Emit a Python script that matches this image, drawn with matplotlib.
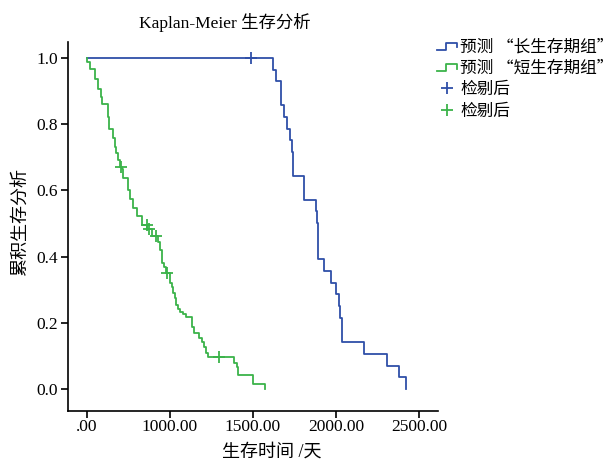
import matplotlib
matplotlib.use('Agg')
import matplotlib.pyplot as plt
from matplotlib.lines import Line2D
from matplotlib.legend_handler import HandlerBase

plt.rcParams['font.family'] = ['Liberation Serif', 'Noto Sans CJK SC']

# long survival group (blue)
long_t = [0, 1122, 1137, 1167, 1170, 1185, 1205, 1221, 1235, 1241, 1243, 1305, 1309,
          1380, 1387, 1389, 1390, 1393, 1430, 1470, 1500, 1518, 1526, 1534, 1536,
          1669, 1807, 1880, 1922]
long_s = [1.0, 0.964, 0.929, 0.893, 0.857, 0.821, 0.786, 0.750, 0.714, 0.679, 0.643,
          0.607, 0.571, 0.536, 0.500, 0.464, 0.429, 0.393, 0.357, 0.321, 0.286, 0.250,
          0.214, 0.179, 0.143, 0.107, 0.071, 0.036, 0.0]
long_cens_t = [990]
long_cens_s = [1.0]

# short survival group (green)
short_t = [0, 2, 18, 48, 68, 83, 90, 127, 134, 158, 167, 175, 189, 199, 211, 219, 249,
           259, 279, 303, 330, 364, 390, 430, 440, 450, 464, 476, 500, 512, 520, 528,
           536, 550, 560, 576, 596, 631, 645, 677, 691, 705, 717, 731, 886, 902, 911,
           1002, 1072]
short_s = [1.0, 0.986, 0.966, 0.936, 0.906, 0.881, 0.861, 0.821, 0.786, 0.756, 0.731,
           0.711, 0.691, 0.671, 0.663, 0.636, 0.600, 0.572, 0.545, 0.522, 0.495, 0.483,
           0.462, 0.444, 0.419, 0.379, 0.369, 0.349, 0.319, 0.309, 0.289, 0.274, 0.253,
           0.243, 0.233, 0.228, 0.218, 0.188, 0.170, 0.153, 0.143, 0.128, 0.108, 0.097,
           0.078, 0.067, 0.042, 0.015, 0.0]
short_cens_t = [207, 360, 373, 416, 484, 797]
short_cens_s = [0.671, 0.495, 0.483, 0.462, 0.349, 0.097]

xticks = [0, 500, 1000, 1500, 2000]
xtick_labels = ['.00', '1000.00', '1500.00', '2000.00', '2500.00']
yticks = [0.0, 0.2, 0.4, 0.6, 0.8, 1.0]
legend_labels = ['预测 “长生存期组”', '预测 “短生存期组”', '检剔后', '检剔后']

blue = '#2f4fa8'
green = '#3bb34a'


class StepHandler(HandlerBase):
    def create_artists(self, legend, orig_handle, xd, yd, w, h, fontsize, trans):
        xs = [-xd, -xd + w * 0.45, -xd + w * 0.45, -xd + w, -xd + w]
        ys = [-yd + h * 0.2, -yd + h * 0.2, -yd + h * 0.75, -yd + h * 0.75, -yd + h * 0.4]
        ln = Line2D(xs, ys, color=orig_handle.get_color(), lw=1.3, transform=trans)
        return [ln]


fig = plt.figure(figsize=(6.15, 4.63), dpi=100)
ax = fig.add_axes([0.1106, 0.1123, 0.6016, 0.797])

l1, = ax.step(long_t, long_s, where='post', color=blue, lw=1.3)
l2, = ax.step(short_t, short_s, where='post', color=green, lw=1.3)
c1, = ax.plot(long_cens_t, long_cens_s, '+', color=blue, ms=8, mew=1.3, ls='none')
c2, = ax.plot(short_cens_t, short_cens_s, '+', color=green, ms=8, mew=1.3, ls='none')

ax.set_xlim(-114, 2114)
ax.set_ylim(-0.066, 1.047)
ax.set_xticks(xticks)
ax.set_xticklabels(xtick_labels)
ax.set_yticks(yticks)
ax.set_yticklabels(['%.1f' % v for v in yticks])
ax.tick_params(labelsize=12.5, length=5, width=1.2, direction='out')
ax.tick_params(axis='y', pad=2)
ax.tick_params(axis='x', pad=1)
for s in ['top', 'right']:
    ax.spines[s].set_visible(False)
for s in ['left', 'bottom']:
    ax.spines[s].set_linewidth(1.2)

fig.text(225 / 615, 1 - 22 / 463, 'Kaplan-Meier 生存分析', ha='center', va='center', fontsize=12.5)
fig.text(272 / 615, 1 - 452 / 463, '生存时间 /天', ha='center', va='center', fontsize=13)
fig.text(20 / 615, 1 - 222 / 463, '累积生存分析', ha='center', va='center', rotation=90, fontsize=13)

fig.legend([l1, l2, c1, c2], legend_labels,
           handler_map={l1: StepHandler(), l2: StepHandler()},
           loc='upper left', bbox_to_anchor=(437 / 615, 1 - 39 / 463),
           frameon=False, handlelength=1.2, handletextpad=0.2,
           labelspacing=0.25, borderpad=0, borderaxespad=0,
           prop={'family': ['Noto Sans CJK SC'], 'size': 12})

fig.savefig('out.png', dpi=100)
